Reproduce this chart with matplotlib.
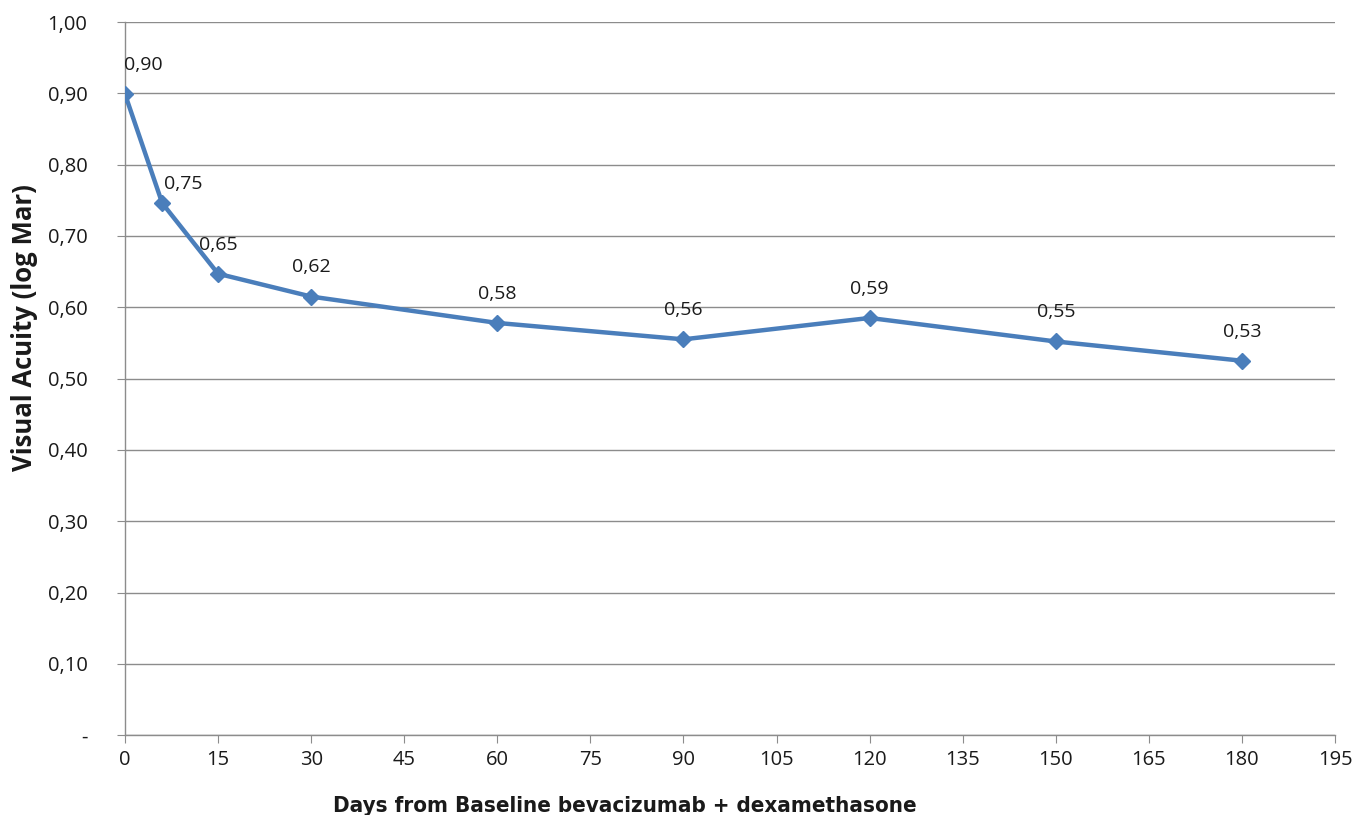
import matplotlib.pyplot as plt
import numpy as np

# Data
days = [0, 6, 15, 30, 60, 90, 120, 150, 180]
acuity = [0.899, 0.746, 0.647, 0.615, 0.578, 0.555, 0.585, 0.552, 0.525]
point_labels = ['0,90', '0,75', '0,65', '0,62', '0,58', '0,56', '0,59', '0,55', '0,53']
x_ticks = list(range(0, 196, 15))
y_ticks = [0.0, 0.1, 0.2, 0.3, 0.4, 0.5, 0.6, 0.7, 0.8, 0.9, 1.0]
y_tick_labels = ['-', '0,10', '0,20', '0,30', '0,40', '0,50', '0,60', '0,70', '0,80', '0,90', '1,00']

plt.rcParams['font.family'] = ['Open Sans', 'DejaVu Sans']

fig = plt.figure(figsize=(13.54, 8.15), dpi=100)
ax = fig.add_axes([0.0923, 0.098, 0.8937, 0.875])

grid_col = '#8c8c8c'
line_col = '#4a7ebb'

ax.plot(days, acuity, color=line_col, linewidth=3.2, marker='D', markersize=8,
        markerfacecolor=line_col, markeredgecolor=line_col, zorder=3)

# Data labels (first two shifted to the right as in the reference)
offsets = [(13, 21), (15, 14)] + [(0, 21)] * (len(days) - 2)
for x, y, lab, off in zip(days, acuity, point_labels, offsets):
    ax.annotate(lab, (x, y), xytext=off, textcoords='offset points',
                ha='center', va='center', fontsize=14, color='#1a1a1a')

ax.set_xlim(0, 195)
ax.set_ylim(0, 1.0)
ax.set_xticks(x_ticks)
ax.set_yticks(y_ticks)
ax.set_yticklabels(y_tick_labels)

ax.yaxis.grid(True, color=grid_col, linewidth=1.0)
ax.set_axisbelow(True)
for side in ['top', 'right']:
    ax.spines[side].set_visible(False)
for side in ['left', 'bottom']:
    ax.spines[side].set_color(grid_col)
    ax.spines[side].set_linewidth(1.0)

ax.tick_params(axis='x', direction='out', length=6, color=grid_col, labelsize=14.5, pad=5, labelcolor='#1a1a1a')
ax.tick_params(axis='y', direction='out', length=6, color=grid_col, labelsize=14.5, pad=21, labelcolor='#1a1a1a')

ax.set_xlabel('Days from Baseline bevacizumab + dexamethasone', fontsize=16, fontweight='bold',
              family='DejaVu Sans', fontstretch='condensed', color='#1a1a1a')
ax.xaxis.set_label_coords(0.413, -0.1)
ax.xaxis.label.set_va('center')
ax.set_ylabel('Visual Acuity (log Mar)', fontsize=18.5, fontweight='bold', color='#1a1a1a')
ax.yaxis.set_label_coords(-0.083, 0.572)
ax.yaxis.label.set_va('center')

plt.savefig('out.png', dpi=100)
